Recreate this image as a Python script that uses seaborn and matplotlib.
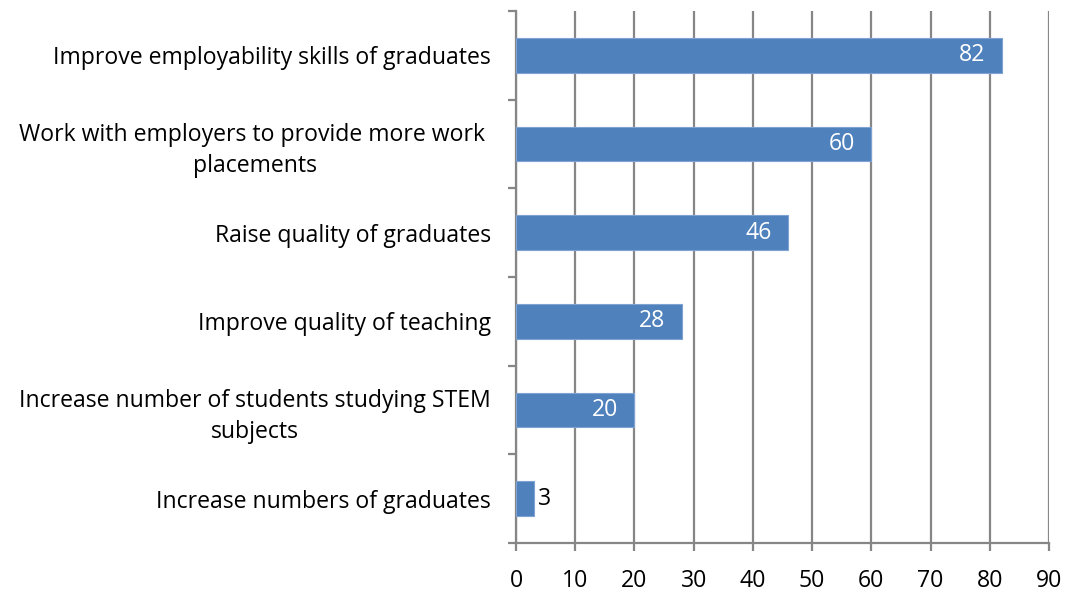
import matplotlib
matplotlib.use("Agg")
import matplotlib.pyplot as plt
import seaborn as sns
import pandas as pd
import numpy as np

categories = [
    "Improve employability skills of graduates",
    "Work with employers to provide more work \nplacements",
    "Raise quality of graduates",
    "Improve quality of teaching",
    "Increase number of students studying STEM\nsubjects",
    "Increase numbers of graduates",
]
values = [82, 60, 46, 28, 20, 3]
xticks = list(range(0, 91, 10))

sns.set_theme(style="white")
plt.rcParams['font.family'] = ['Open Sans', 'DejaVu Sans']

FS = 16.6
df = pd.DataFrame({"cat": categories, "val": values})

fig = plt.figure(figsize=(10.69, 5.95), dpi=100)
ax = fig.add_axes([516/1069, 1-543/595, (1049-516)/1069, (543-11)/595])

sns.barplot(data=df, x="val", y="cat", orient="h", color="#4F81BD",
            saturation=1, width=0.39, ax=ax, zorder=3,
            edgecolor="#7EA3D2", linewidth=0.8)

grid_c = "#868686"
ax.set_xlim(0, 90)
ax.set_ylim(len(categories)-0.5, -0.5)
ax.set_xticks(xticks)
ax.set_xticklabels([str(t) for t in xticks], fontsize=FS, color="#000000")
ax.xaxis.grid(True, color=grid_c, linewidth=1.6, zorder=0)
ax.yaxis.grid(False)
ax.set_axisbelow(True)
ax.set_xlabel("")
ax.set_ylabel("")

ax.set_yticks(range(len(categories)))
ax.set_yticklabels(categories, fontsize=FS, color="#000000")
for lab in ax.get_yticklabels():
    lab.set_multialignment("center")
    lab.set_linespacing(1.38)
ax.set_yticks(np.arange(-0.5, len(categories), 1), minor=True)
ax.tick_params(axis="y", which="major", length=0, pad=18)
ax.tick_params(axis="y", which="minor", length=6, width=1.6, color=grid_c, left=True)
ax.tick_params(axis="x", which="major", length=5.5, width=1.6, color=grid_c, bottom=True, pad=13.5)

for s in ["top", "right"]:
    ax.spines[s].set_visible(False)
for s in ["left", "bottom"]:
    ax.spines[s].set_color(grid_c)
    ax.spines[s].set_linewidth(1.6)

for i, v in enumerate(values):
    if v >= 10:
        ax.annotate(str(v), xy=(v, i), xytext=(-12, 0), textcoords="offset points",
                    ha="right", va="center", color="white", fontsize=FS, zorder=4)
    else:
        ax.annotate(str(v), xy=(v, i), xytext=(3, 0), textcoords="offset points",
                    ha="left", va="center", color="#000000", fontsize=FS, zorder=4)

fig.savefig("out.png", dpi=100)
